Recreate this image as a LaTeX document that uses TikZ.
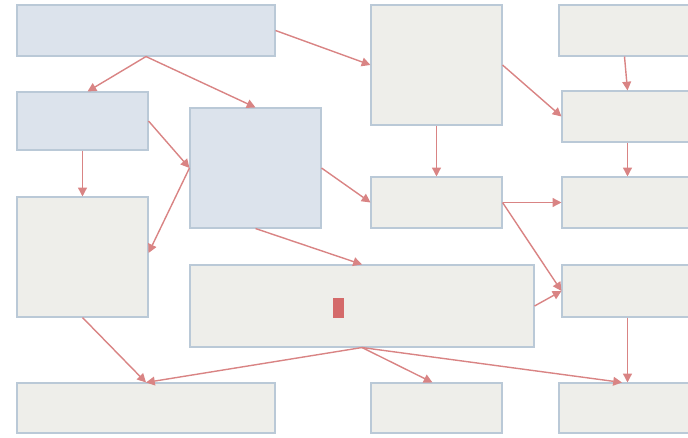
\documentclass[tikz,border=0pt]{standalone}
\usepackage{tikz}
\usetikzlibrary{arrows.meta}

\definecolor{boxline}{HTML}{BAC9D7}
\definecolor{greyfill}{HTML}{EEEEEA}
\definecolor{bluefill}{HTML}{DCE3EC}
\definecolor{linkred}{HTML}{D98484}
\definecolor{barred}{HTML}{D46A6A}

\begin{document}
\begin{tikzpicture}[
  box/.style={draw=boxline,line width=0.6pt,rectangle,fill=greyfill,inner sep=0pt},
  bluebox/.style={box,fill=bluefill},
  link/.style={draw=linkred,line width=0.8pt,-{Triangle[length=5pt,width=5pt]}}
]
  \useasboundingbox (0,0) rectangle (13.76,-8.74);

  % top row
  \node[bluebox,minimum width=5.16cm,minimum height=1.02cm] (b1) at (2.92,-0.61) {};
  \node[box,minimum width=2.62cm,minimum height=2.4cm] (b5) at (8.73,-1.30) {};
  \node[box,minimum width=2.62cm,minimum height=1.02cm] (b7) at (12.49,-0.61) {};

  % second band
  \node[bluebox,minimum width=2.62cm,minimum height=1.16cm] (b2) at (1.65,-2.42) {};
  \node[bluebox,minimum width=2.62cm,minimum height=2.4cm] (b3) at (5.11,-3.36) {};
  \node[box,minimum width=2.62cm,minimum height=1.02cm] (b8) at (12.55,-2.33) {};
  \node[box,minimum width=2.62cm,minimum height=1.02cm] (b6) at (8.73,-4.05) {};
  \node[box,minimum width=2.62cm,minimum height=1.02cm] (b9) at (12.55,-4.05) {};

  % third band
  \node[box,minimum width=2.62cm,minimum height=2.4cm] (b4) at (1.65,-5.14) {};
  \node[box,minimum width=6.88cm,minimum height=1.64cm] (b10) at (7.24,-6.12) {};
  \node[box,minimum width=2.62cm,minimum height=1.04cm] (b11) at (12.55,-5.82) {};
  \node[fill=barred,minimum width=0.22cm,minimum height=0.4cm,inner sep=0pt] (redbar) at (6.77,-6.16) {};

  % bottom row
  \node[box,minimum width=5.16cm,minimum height=1.0cm] (b12) at (2.92,-8.16) {};
  \node[box,minimum width=2.62cm,minimum height=1.0cm] (b13) at (8.73,-8.16) {};
  \node[box,minimum width=2.62cm,minimum height=1.0cm] (b14) at (12.49,-8.16) {};

  % connectors
  \draw[link] (b1.south) -- ([xshift=0.1cm]b2.north);
  \draw[link] (b1.south) -- (b3.north);
  \draw[link] (b1.east) -- (b5.west);
  \draw[link] (b2.east) -- (b3.west);
  \draw[link] (b2.south) -- (b4.north);
  \draw[link] (b3.west) -- ([yshift=0.08cm]b4.east);
  \draw[link] (b3.east) -- (b6.west);
  \draw[link] (b3.south) -- (b10.north);
  \draw[link] (b5.south) -- (b6.north);
  \draw[link] (b5.east) -- (b8.west);
  \draw[link] (b7.south) -- (b8.north);
  \draw[link] (b8.south) -- (b9.north);
  \draw[link] (b6.east) -- (b9.west);
  \draw[link] (b6.east) -- (b11.west);
  \draw[link] (b10.east) -- (b11.west);
  \draw[link] (b4.south) -- (b12.north);
  \draw[link] (b10.south) -- (b12.north);
  \draw[link] (b10.south) -- ([xshift=-0.08cm]b13.north);
  \draw[link] (b10.south) -- ([xshift=-0.05cm]b14.north);
  \draw[link] (b11.south) -- (b11.south |- b14.north);
\end{tikzpicture}
\end{document}
